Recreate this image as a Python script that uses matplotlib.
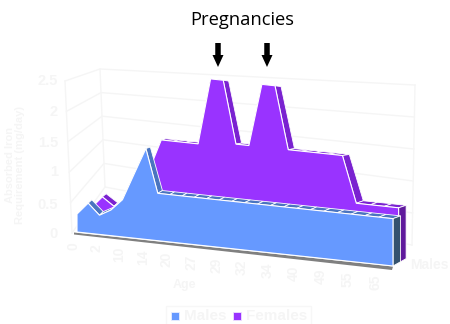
import matplotlib
matplotlib.use("Agg")
import matplotlib.pyplot as plt
from matplotlib.patches import Polygon, Rectangle, FancyArrow

plt.rcParams["font.family"] = "Liberation Sans"

ages = ["0", "2", "10", "14", "20", "27", "29", "32", "34", "40", "49", "55", "65"]
males = [0.28, 0.47, 0.30, 0.40, 0.58, 1.00, 1.42, 0.74, 0.74, 0.74, 0.74, 0.74, 0.74,
         0.74, 0.74, 0.74, 0.74, 0.74, 0.74, 0.74, 0.74, 0.74, 0.74, 0.74, 0.74, 0.74]
females = [0.28, 0.35, 0.55, 0.42, 0.50, 0.80, 1.06, 1.56, 1.56, 1.56, 1.56, 2.62, 2.62,
           1.62, 1.62, 2.62, 2.62, 1.62, 1.62, 1.62, 1.62, 1.62, 0.88, 0.88, 0.88, 0.88]
y_ticks = [0, 0.5, 1, 1.5, 2, 2.5]
y_tick_rows = [234, 205, 172, 143, 112, 81]

faint = "#f5f5f5"
n = len(males) - 1


# fake 3d, same look as the old excel style area chart
def project(i, v, d):
    t = i / n
    x = 77 + 316 * t * (1 + 0.137 * t) / 1.137
    y = 232 + 0.1076 * (x - 77)
    return x + (3.5 + 4 * t) * d, y - 4.2 * d - v * 64 * (1 - 0.03 * d)


def draw_area(ax, vals, d0, d1, front, strip, steep, side):
    # top strips first, the front face covers the hidden ones
    for i in range(n):
        a, b = vals[i], vals[i + 1]
        pts = [project(i, a, d0), project(i + 1, b, d0), project(i + 1, b, d1), project(i, a, d1)]
        col = steep if b < a else strip
        ax.add_patch(Polygon(pts, fc=col, ec="white", lw=0.6))
    pts = [project(n, 0, d0), project(n, vals[n], d0), project(n, vals[n], d1), project(n, 0, d1)]
    ax.add_patch(Polygon(pts, fc=side, ec="white", lw=0.6))
    pts = [project(i, vals[i], d0) for i in range(n + 1)]
    pts = pts + [project(n, 0, d0), project(0, 0, d0)]
    ax.add_patch(Polygon(pts, fc=front, ec="white", lw=0.8))


fig = plt.figure(figsize=(4.5, 3.24), dpi=100)
ax = fig.add_axes([0, 0, 1, 1])
ax.set_xlim(0, 450)
ax.set_ylim(324, 0)
ax.axis("off")

# walls
for k, v in enumerate(y_ticks):
    f = v / 2.5
    left = (72 - 7 * f, 233 - 152 * f)
    corner = (105 - 5 * f, 187 - 118 * f)
    right = (412 + 3 * f, 245 - 160 * f)
    ax.plot([left[0], corner[0], right[0]], [left[1], corner[1], right[1]], color=faint, lw=1, zorder=0)
    ax.text(58, y_tick_rows[k], str(v), color=faint, fontsize=10.5, fontweight="bold", ha="right", va="center")
ax.plot([72, 65], [233, 81], color=faint, lw=1, zorder=0)
ax.plot([105, 100], [187, 69], color=faint, lw=1, zorder=0)
ax.plot([412, 415], [245, 85], color=faint, lw=1, zorder=0)

# floor shadow
p0 = project(0, 0, 0)
p1 = project(n, 0, 0)
ax.add_patch(Polygon([(p0[0] - 3, p0[1] + 0.5), (p1[0], p1[1] + 0.5), (p1[0] - 1, p1[1] + 4), (p0[0] - 3, p0[1] + 2.5)],
                     fc="#808080", ec="none"))

draw_area(ax, females, 0.75, 1.75, "#9933ff", "#7a22d0", "#7a22d0", "#5f1a9c")
draw_area(ax, males, 0, 1, "#6699ff", "#4a74bf", "#4a74bf", "#34526e")

# age labels every second point
for k, lab in enumerate(ages):
    x, y = project(k * 2, 0, 0)
    ax.text(x - 3, y + 10, lab, color=faint, fontsize=10, fontweight="bold", rotation=90, ha="center", va="top")

ax.text(184, 285, "Age", color=faint, fontsize=9, fontweight="bold", ha="center", va="center")
ax.text(429, 265, "Males", color=faint, fontsize=10, fontweight="bold", ha="center", va="center")
ax.text(15, 165, "Absorbed Iron\nRequirement (mg/day)", color=faint, fontsize=8, fontweight="bold",
        rotation=90, ha="center", va="center", linespacing=1.1)

# legend
ax.add_patch(Rectangle((165.5, 305.5), 145.5, 20, fc="white", ec="#f7f7f7", lw=1))
ax.add_patch(Rectangle((171, 312), 8, 8, fc="#6699ff", ec="#e8eeff", lw=0.6))
ax.add_patch(Rectangle((233, 312), 8, 8, fc="#9933ff", ec="#eee0ff", lw=0.6))
ax.text(184, 316, "Males", color=faint, fontsize=11, fontweight="bold", va="center")
ax.text(246, 316, "Females", color=faint, fontsize=11, fontweight="bold", va="center")

# annotation
ax.text(242, 20, "Pregnancies", color="black", fontsize=13.2, family="Open Sans", ha="center", va="center")
for x in [218, 267]:
    ax.add_patch(FancyArrow(x, 43, 0, 24, width=5.5, head_width=11, head_length=12,
                            length_includes_head=True, fc="black", ec="none"))

fig.savefig("out.png", dpi=100)
